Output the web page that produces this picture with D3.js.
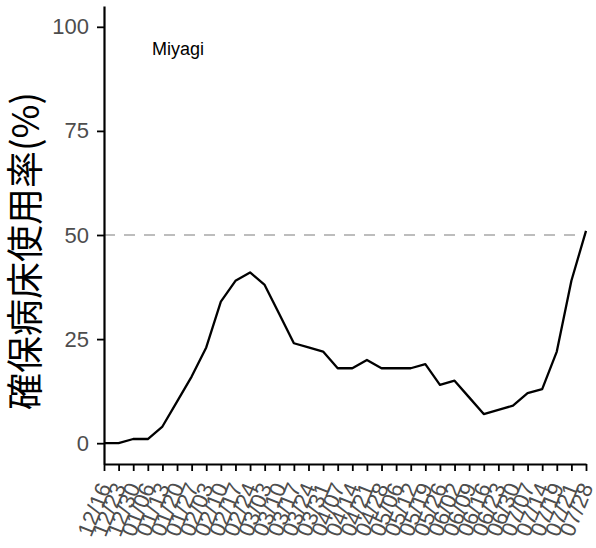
<!DOCTYPE html>
<html>
<head>
<meta charset="utf-8">
<script src="https://cdn.jsdelivr.net/npm/d3@7"></script>
<style>
  body { margin: 0; background: #fff; }
  svg { display: block; }
</style>
</head>
<body>
<div class="chart"></div>
<script>
// weekly occupancy of secured hospital beds, Miyagi
const dates = ["12/16", "12/23", "12/30", "01/06", "01/13", "01/20", "01/27", "02/03",
  "02/10", "02/17", "02/24", "03/03", "03/10", "03/17", "03/24", "03/31", "04/07",
  "04/14", "04/21", "04/28", "05/06", "05/12", "05/19", "05/26", "06/02", "06/09",
  "06/16", "06/23", "06/30", "07/07", "07/14", "07/19", "07/21", "07/28"];
const rate = [0, 0, 1, 1, 4, 10, 16, 23, 34, 39, 41, 38, 31, 24, 23, 22, 18,
  18, 20, 18, 18, 18, 19, 14, 15, 11, 7, 8, 9, 12, 13, 22, 39, 51];
const yTicks = [0, 25, 50, 75, 100];
const refLine = 50;
const prefName = "Miyagi";
const yTitle = "確保病床使用率(%)";

const width = 596, height = 548;
const margin = { top: 6, right: 10, bottom: 84, left: 104 };

let svg = d3
  .select(".chart")
  .append("svg")
  .attr("width", width)
  .attr("height", height);

let x = d3.scalePoint().domain(dates).range([margin.left, width - margin.right]);
let y = d3.scaleLinear().domain([-5, 105]).range([height - margin.bottom, margin.top]);

// dashed reference line at 50%
svg
  .append("line")
  .attr("x1", margin.left)
  .attr("x2", width - margin.right)
  .attr("y1", y(refLine))
  .attr("y2", y(refLine))
  .attr("stroke", "#bdbdbd")
  .attr("stroke-width", 2)
  .attr("stroke-dasharray", "11,9");

// the curve
let line = d3
  .line()
  .x((d, i) => x(dates[i]))
  .y((d) => y(d));

svg
  .append("path")
  .datum(rate)
  .attr("d", line)
  .attr("fill", "none")
  .attr("stroke", "#000")
  .attr("stroke-width", 2.3)
  .attr("stroke-linejoin", "round");

// y axis
let yAxis = svg
  .append("g")
  .attr("transform", `translate(${margin.left}, 0)`)
  .call(d3.axisLeft(y).tickValues(yTicks).tickSize(7).tickPadding(8).tickSizeOuter(0));

// x axis
let xAxis = svg
  .append("g")
  .attr("transform", `translate(0, ${height - margin.bottom})`)
  .call(d3.axisBottom(x).tickSize(7).tickSizeOuter(0));

[yAxis, xAxis].forEach((ax) => {
  ax.select(".domain").attr("stroke", "#000").attr("stroke-width", 2.2);
  ax.selectAll(".tick line").attr("stroke", "#000").attr("stroke-width", 1.8);
  ax.selectAll("text")
    .attr("fill", "#4d4d4d")
    .style("font-family", "'Liberation Sans', Arial, sans-serif")
    .style("font-size", "22px");
});

xAxis
  .selectAll("text")
  .attr("x", 0)
  .attr("y", 0)
  .attr("dy", "0.35em")
  .attr("text-anchor", "end")
  .attr("transform", "translate(0, 20) rotate(-68)");

// panel label
svg
  .append("text")
  .attr("x", 152)
  .attr("y", 55)
  .style("font-family", "'Liberation Sans', Arial, sans-serif")
  .style("font-size", "18px")
  .attr("fill", "#000")
  .text(prefName);

// y axis title
svg
  .append("text")
  .attr("transform", "translate(26, 251) rotate(-90)")
  .attr("text-anchor", "middle")
  .attr("dy", "0.35em")
  .style("font-family", "'Noto Sans CJK JP', sans-serif")
  .style("font-size", "37px")
  .attr("fill", "#000")
  .text(yTitle);
</script>
</body>
</html>
